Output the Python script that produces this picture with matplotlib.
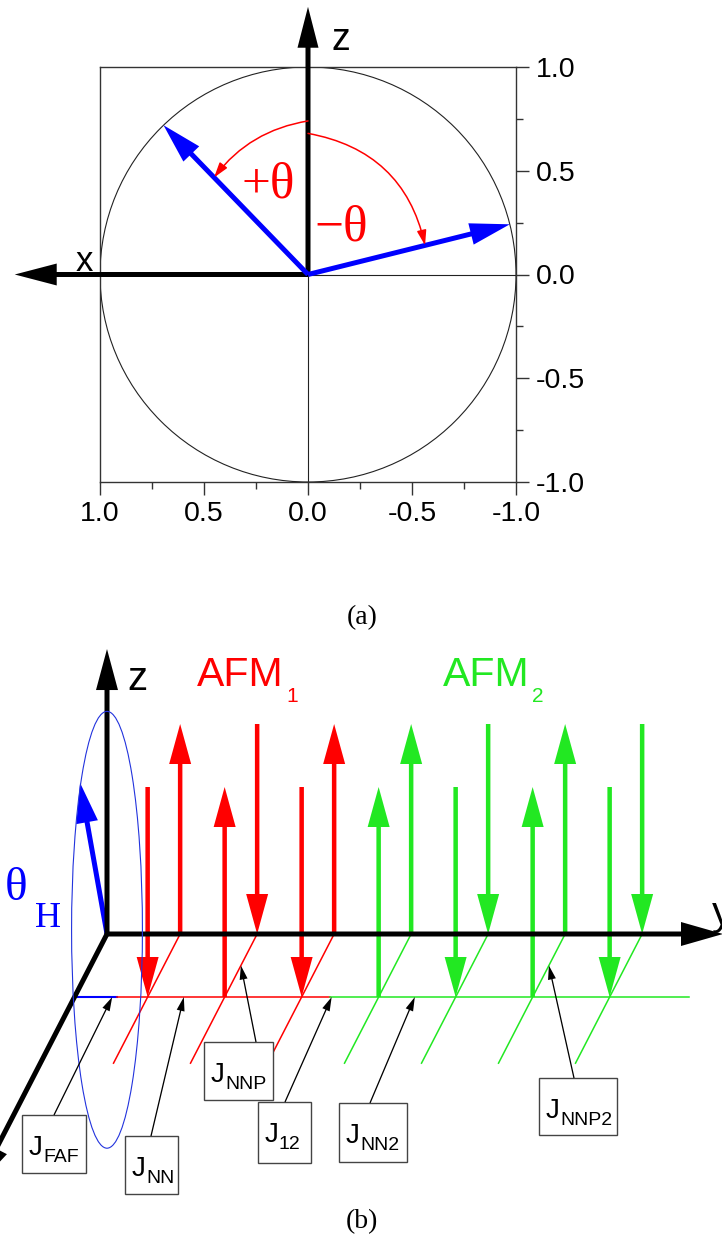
import numpy as np
import matplotlib.pyplot as plt
from matplotlib.patches import FancyArrowPatch, Circle, Ellipse, Rectangle
from matplotlib.ticker import MultipleLocator

plt.rcParams['font.family'] = ['Liberation Sans', 'DejaVu Sans']
plt.rcParams['axes.unicode_minus'] = False

# ---------------- panel (a): spin directions in the x-z plane ----------------
tick_vals = [1.0, 0.5, 0.0, -0.5, -1.0]
tick_text = ['1.0', '0.5', '0.0', '-0.5', '-1.0']
spin_angles = [44, -76]        # degrees from +z, positive towards +x
spin_len = 1.0
arc_r0 = [0.74, 0.68]          # arc start on the z axis
arc_r1 = [0.65, 0.58]          # arc end on the spin
arc_bend = [0.2, -0.33]
theta_text = ['+θ', '\u2212θ']
theta_pos = [(0.32, 0.37), (-0.03, 0.165)]
axis_len_x = 1.41
axis_len_z = 1.29

# ---------------- panel (b): two AFM chains ----------------
sites = 0.95 + np.arange(7)                     # positions along y
back_dir = [1, -1, 1, 1, -1, 1, -1]             # spins on the y axis row
front_dir = [-1, 1, -1, 1, -1, 1, -1]           # spins on the front row
site_chain = [0, 0, 0, 1, 1, 1, 1]              # 0 = AFM1, 1 = AFM2
chain_edges = [0.0, 0.55, 3.32, 7.98]           # front row: FM | AFM1 | AFM2
field_tip = (-0.35, 0.72)                       # (y, z) of the field spin
ring_w, ring_h = 0.46, 1.04
coup_names = ['FAF', 'NN', 'NNP', '12', 'NN2', 'NNP2']
coup_target = [(1, 0.49), (1, 1.42), (0.5, 1.95), (1, 3.34), (1, 4.42), (0.5, 5.95)]  # (depth, y)
chain_names = ['AFM', 'AFM']
chain_subs = ['1', '2']

RED = '#ff0000'
GREEN = '#22e822'
BLUE = '#0000ff'
chain_col = [RED, GREEN]

fig = plt.figure(figsize=(7.22, 12.47), dpi=100)

# ---------- (a) ----------
ax = fig.add_axes([100 / 722, 1 - 482 / 1247, 416 / 722, 415 / 1247])
ax.set_xlim(1, -1)
ax.set_ylim(-1, 1)
ax.set_xticks(tick_vals, tick_text)
ax.set_yticks(tick_vals, tick_text)
ax.xaxis.set_minor_locator(MultipleLocator(0.25))
ax.yaxis.set_minor_locator(MultipleLocator(0.25))
ax.yaxis.tick_right()
ax.tick_params(which='major', direction='out', length=9, width=1, color='#333',
               labelsize=20.5, pad=5, left=False, top=False)
ax.tick_params(which='minor', direction='out', length=5, width=1, color='#333',
               left=False, top=False)
for s in ax.spines.values():
    s.set_color('#333')
    s.set_linewidth(1)

ax.add_patch(Circle((0, 0), 1, fill=False, ec='#222', lw=0.8))
ax.plot([0, -1], [0, 0], color='#222', lw=0.8)
ax.plot([0, 0], [0, -1], color='#222', lw=0.8)

px = 1 / 208
ax.arrow(0, 0, axis_len_x, 0, width=5 * px, head_width=22 * px, head_length=42 * px,
         length_includes_head=True, lw=0, color='k', clip_on=False, zorder=4)
ax.arrow(0, 0, 0, axis_len_z, width=5 * px, head_width=21 * px, head_length=41 * px,
         length_includes_head=True, lw=0, color='k', clip_on=False, zorder=4)
ax.text(1.115, 0.015, 'x', fontsize=25, ha='left', va='baseline')
ax.text(-0.115, 1.083, 'z', fontsize=27, ha='left', va='baseline')

for ang, r0, r1, bend in zip(spin_angles, arc_r0, arc_r1, arc_bend):
    t = np.radians(ang)
    ax.arrow(0, 0, spin_len * np.sin(t), spin_len * np.cos(t), width=5 * px,
             head_width=22 * px, head_length=40 * px, length_includes_head=True,
             lw=0, color=BLUE, clip_on=False, zorder=5)
    ax.add_patch(FancyArrowPatch((0, r0), (r1 * np.sin(t), r1 * np.cos(t)),
                                 connectionstyle=f'arc3,rad={bend}',
                                 arrowstyle='-|>,head_length=9,head_width=2.8',
                                 mutation_scale=1, color=RED, lw=1.1,
                                 shrinkA=0, shrinkB=0, zorder=6))
for txt, (tx, tz) in zip(theta_text, theta_pos):
    ax.text(tx, tz, txt, fontsize=37, color=RED, family='Liberation Serif',
            ha='left', va='baseline')

# ---------- (b) canvas in pixels ----------
cv = fig.add_axes([0, 0, 1, 1], zorder=2)
cv.set_xlim(0, 722)
cv.set_ylim(1247, 0)
cv.axis('off')

O = np.array([107.0, 934.0])
UY = 77.0
DEP = np.array([-32.5, 63.0])
UZ = 210.0


def proj(d, y, z):
    return O + y * np.array([UY, 0]) + d * DEP - z * np.array([0, UZ])


def arrow(p0, p1, color, w, hw, hl, z=3):
    p0 = np.asarray(p0)
    p1 = np.asarray(p1)
    cv.arrow(p0[0], p0[1], *(p1 - p0), width=w, head_width=hw, head_length=hl,
             length_includes_head=True, lw=0, color=color, zorder=z)


# front chain line
seg_cols = [BLUE, RED, GREEN]
for i in range(3):
    a, b = proj(1, chain_edges[i], 0), proj(1, chain_edges[i + 1], 0)
    cv.plot([a[0], b[0]], [a[1], b[1]], color=seg_cols[i], lw=1.5 if i == 0 else 1.1, zorder=1)

# diagonal bonds
for s, c in zip(sites, site_chain):
    a, b = proj(0, s, 0), proj(2.05, s, 0)
    cv.plot([a[0], b[0]], [a[1], b[1]], color=chain_col[c], lw=1.1, zorder=1)

# spins
for row, dirs in [(0, back_dir), (1, front_dir)]:
    for s, d, c in zip(sites, dirs, site_chain):
        base, top = proj(row, s, 0), proj(row, s, 1)
        p0, p1 = (base, top) if d > 0 else (top, base)
        arrow(p0, p1, chain_col[c], 4.5, 22, 40, z=2)

# field ring and spin
cen = proj(0, 0, 0.02)
cv.add_patch(Ellipse(cen, 2 * ring_w * UY, 2 * ring_h * UZ, fill=False, ec='#2233dd', lw=0.8, zorder=6))
arrow(proj(0, 0, 0), proj(0, field_tip[0], field_tip[1]), BLUE, 5, 22, 40, z=4)

# coordinate axes
arrow(proj(0, 0, 0), proj(0, 0, 1.357), 'k', 5, 22, 41, z=4)
arrow(proj(0, 0, 0), proj(0, 8.0, 0), 'k', 5, 24, 42, z=4)
arrow(proj(0, 0, 0), proj(4.0, 0, 0), 'k', 5, 24, 42, z=4)
cv.text(127, 690, 'z', fontsize=29, ha='left', va='baseline')
cv.text(712, 925, 'y', fontsize=29, ha='left', va='baseline')
cv.text(5, 900, 'θ', fontsize=34, color=BLUE, family='Liberation Serif', ha='left', va='baseline')
cv.text(35, 927, 'H', fontsize=26, color=BLUE, family='Liberation Serif', ha='left', va='baseline')

# chain titles
title_x = [197, 443]
for name, sub, tx, col in zip(chain_names, chain_subs, title_x, chain_col):
    cv.text(tx, 686, name, fontsize=29.5, color=col, ha='left', va='baseline')
    cv.text(tx + 89, 702, sub, fontsize=15, color=col, ha='left', va='baseline')

# coupling labels
box_left = [22, 125, 204, 258, 339, 539]
box_top = [1115, 1136, 1042, 1102, 1103, 1078]
box_w = [64, 53, 69, 53, 68, 78]
box_h = [58, 58, 58, 61, 59, 57]
start_x = [54, 151, 256, 285, 370, 574]
for name, tgt, bl, bt, bw, bh, sx in zip(coup_names, coup_target, box_left, box_top, box_w, box_h, start_x):
    cv.add_patch(Rectangle((bl, bt), bw, bh, fc='white', ec='#444', lw=1, zorder=7))
    cv.text(bl + 7, bt + 40, 'J', fontsize=20, ha='left', va='baseline', zorder=8)
    cv.text(bl + 21, bt + 47, name, fontsize=14, ha='left', va='baseline', zorder=8)
    arrow((sx, bt), proj(tgt[0], tgt[1], 0), 'k', 1.3, 8, 14, z=8)

cv.text(362, 618, '(a)', fontsize=20, family='Liberation Serif', ha='center', va='center')
cv.text(362, 1222, '(b)', fontsize=20, family='Liberation Serif', ha='center', va='center')

fig.savefig('out.png', dpi=100)
